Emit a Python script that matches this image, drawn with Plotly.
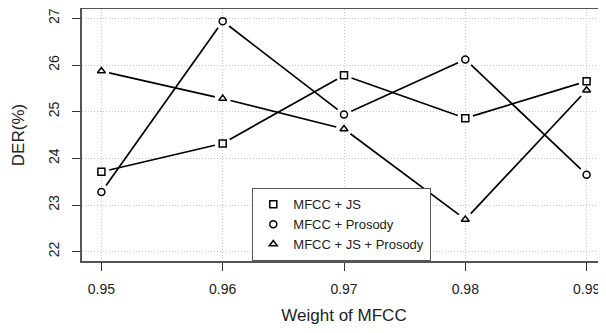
import plotly.graph_objects as go

weights = [0.95, 0.96, 0.97, 0.98, 0.99]
mfcc_js = [23.71, 24.32, 25.78, 24.86, 25.65]
mfcc_prosody = [23.28, 26.94, 24.94, 26.12, 23.65]
mfcc_js_prosody = [25.87, 25.28, 24.63, 22.69, 25.46]
series_names = ["MFCC + JS", "MFCC + Prosody", "MFCC + JS + Prosody"]
symbols = ["square-open", "circle-open", "triangle-up-open"]

# page body has an 8px margin: the figure is sized so the page never scrolls
OFF = 8
W, H = 598, 317
ML, MR, MT, MB = 82 - OFF, 0, 9 - OFF, 64
XR = [0.9484, 0.9916]
YR = [21.8, 27.2]
pw, ph = W - ML - MR, H - MT - MB
sx = pw / (XR[1] - XR[0])
sy = ph / (YR[1] - YR[0])
GAP = 8.0


def gapped(xs, ys):
    gx, gy = [], []
    for i in range(len(xs) - 1):
        dx = (xs[i + 1] - xs[i]) * sx
        dy = (ys[i + 1] - ys[i]) * sy
        L = (dx * dx + dy * dy) ** 0.5
        t = GAP / L
        gx += [xs[i] + t * (xs[i + 1] - xs[i]), xs[i + 1] - t * (xs[i + 1] - xs[i]), None]
        gy += [ys[i] + t * (ys[i + 1] - ys[i]), ys[i + 1] - t * (ys[i + 1] - ys[i]), None]
    return gx, gy


fig = go.Figure()
all_series = [mfcc_js, mfcc_prosody, mfcc_js_prosody]
for ys in all_series:
    gx, gy = gapped(weights, ys)
    fig.add_trace(go.Scatter(x=gx, y=gy, mode="lines", line=dict(color="black", width=1.7),
                             showlegend=False, hoverinfo="skip"))
for ys, name, sym in zip(all_series, series_names, symbols):
    fig.add_trace(go.Scatter(x=weights, y=ys, mode="markers", name=name,
                             marker=dict(symbol=sym, size=7, color="black",
                                         line=dict(color="black", width=1.5))))

font = dict(family="Liberation Sans, Arial, sans-serif", size=14, color="#222")
fig.update_layout(
    width=W, height=H,
    margin=dict(l=ML, r=MR, t=MT, b=MB, autoexpand=False),
    paper_bgcolor="white", plot_bgcolor="white",
    font=font,
    legend=dict(x=(252 - 82) / pw, y=(261 - 188) / ph, xanchor="left", yanchor="top",
                bgcolor="white", bordercolor="#555", borderwidth=1.3,
                font=dict(family="Liberation Sans, Arial, sans-serif", size=13, color="#222"),
                itemwidth=30, tracegroupgap=0),
)
fig.update_xaxes(range=XR, tickvals=weights, ticktext=["0.95", "0.96", "0.97", "0.98", "0.99"],
                 ticks="outside", ticklen=8, tickcolor="#333", tickwidth=1.2,
                 ticklabelstandoff=6, ticklabeloverflow="allow",
                 showline=True, linecolor="#555", linewidth=1.5, mirror=True,
                 showgrid=True, gridcolor="#c8c8c8", griddash="1px,2px", gridwidth=1,
                 zeroline=False, automargin=False,
                 title=dict(text="Weight of MFCC", standoff=16))
fig.update_yaxes(range=YR, tickvals=[22, 23, 24, 25, 26, 27], tickangle=-90,
                 ticks="outside", ticklen=8, tickcolor="#333", tickwidth=1.2,
                 ticklabelstandoff=8,
                 showline=True, linecolor="#555", linewidth=1.5, mirror=False,
                 showgrid=True, gridcolor="#c8c8c8", griddash="1px,2px", gridwidth=1,
                 zeroline=False, automargin=False,
                 title=dict(text="DER(%)", standoff=17))
fig.write_html("out.html")
